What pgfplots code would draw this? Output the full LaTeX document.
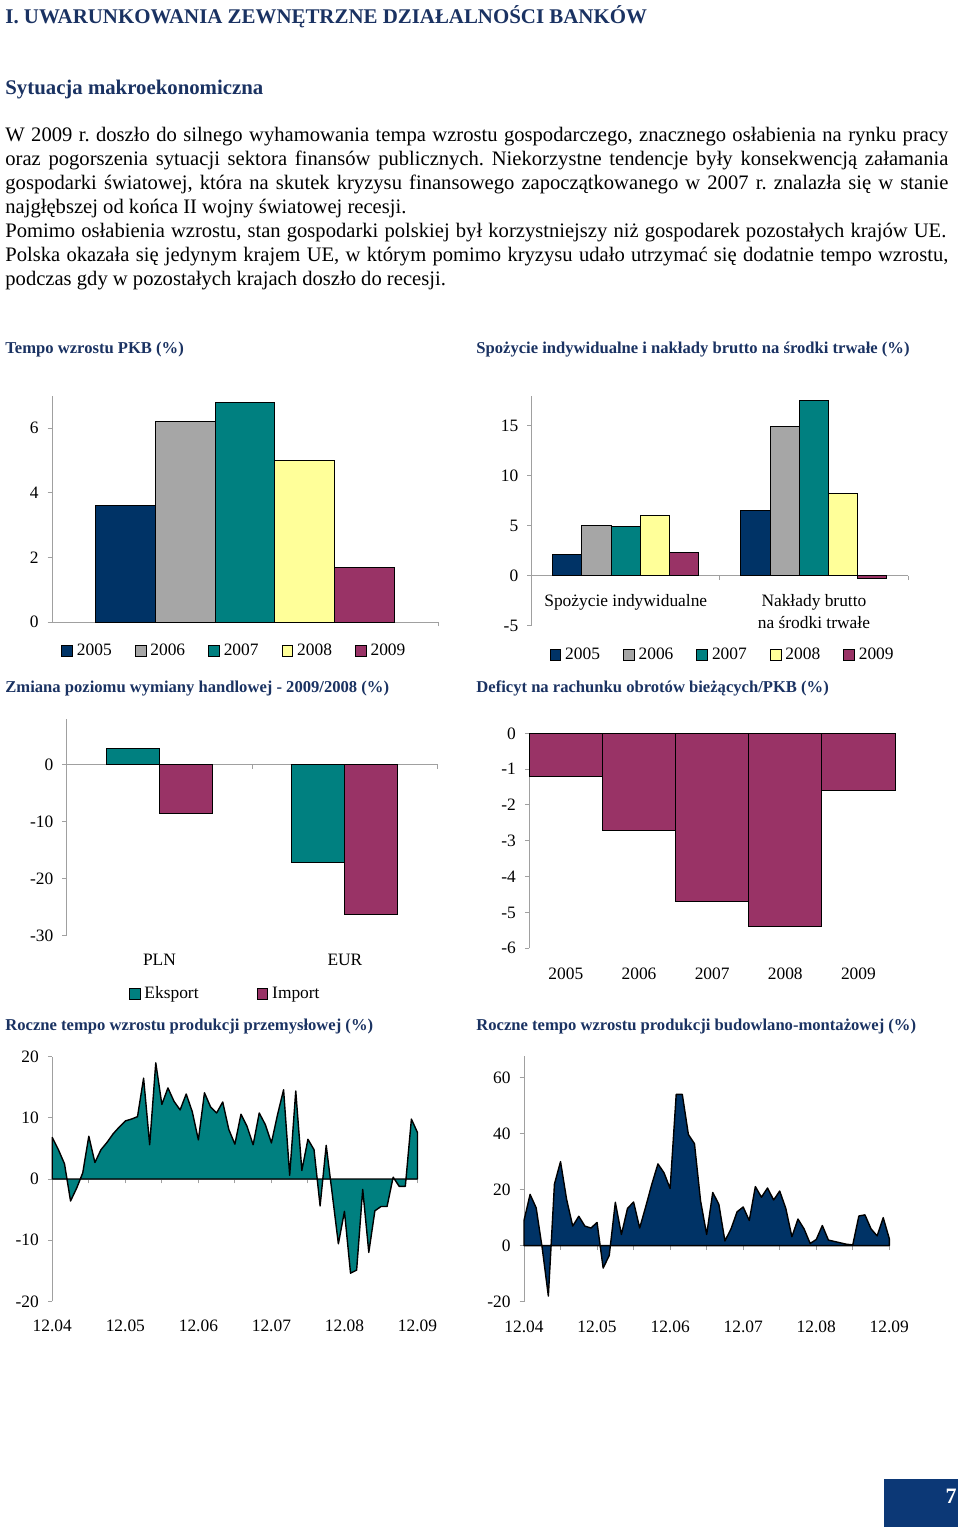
\documentclass[border=0pt]{standalone}
\usepackage{fontspec}
\setmainfont{Liberation Serif}
\usepackage{pgfplots}
\pgfplotsset{compat=1.18}
\frenchspacing

\definecolor{cnavy}{HTML}{003366}
\definecolor{cgray}{HTML}{A6A6A6}
\definecolor{cteal}{HTML}{008080}
\definecolor{cyell}{HTML}{FFFF99}
\definecolor{cplum}{HTML}{993366}
\definecolor{headblue}{RGB}{26,50,98}
\definecolor{axgray}{RGB}{160,160,160}
\definecolor{pagebox}{RGB}{12,56,118}

\newcommand{\tf}{\fontsize{8.7}{11}\selectfont}
\newcommand{\ttl}{\fontsize{8.3}{10}\selectfont\bfseries}
\newcommand{\bodyf}{\fontsize{10.3}{12}\selectfont}

\pgfplotsset{
  pagechart/.style={
    scale only axis,
    anchor=south west,
    axis x line=middle,
    axis y line=left,
    axis line style={-, axgray, line width=0.5pt},
    tick style={axgray, line width=0.5pt},
    tick align=outside,
    major tick length=2.2pt,
    minor tick num=0,
    hide obscured x ticks=false,
    hide obscured y ticks=false,
    tick label style={font=\tf, text=black},
    yticklabel style={xshift=-1pt},
    /pgf/number format/assume math mode=true,
    clip=false,
    legend style={draw=none, fill=none, font=\tf, legend columns=-1,
      inner sep=0pt,
      /tikz/every even column/.append style={column sep=9.5pt}},
  },
  sq legend/.style={legend image code/.code={\draw[##1,draw=black,line width=0.4pt] (0pt,-2.7pt) rectangle (5.4pt,2.7pt);}},
}

\begin{document}
\begin{tikzpicture}
\useasboundingbox (0,0) rectangle (480pt,-767.5pt);

% ---- headings and body text ----
\node[anchor=base west, inner sep=0pt, font=\fontsize{10.45}{12}\selectfont\bfseries, text=headblue] at (2.5pt,-11.65pt) {I. UWARUNKOWANIA ZEWNĘTRZNE DZIAŁALNOŚCI BANKÓW};
\node[anchor=base west, inner sep=0pt, font=\fontsize{10.4}{12}\selectfont\bfseries, text=headblue] at (2.5pt,-47.5pt) {Sytuacja makroekonomiczna};

\node[anchor=base west, inner sep=0pt, font=\bodyf] at (2.5pt,-71pt) {\makebox[471.5pt][s]{W 2009 r. doszło do silnego wyhamowania tempa wzrostu gospodarczego, znacznego osłabienia na rynku pracy}};
\node[anchor=base west, inner sep=0pt, font=\bodyf] at (2.5pt,-83pt) {\makebox[471.5pt][s]{oraz pogorszenia sytuacji sektora finansów publicznych. Niekorzystne tendencje były konsekwencją załamania}};
\node[anchor=base west, inner sep=0pt, font=\bodyf] at (2.5pt,-95pt) {\makebox[471.5pt][s]{gospodarki światowej, która na skutek kryzysu finansowego zapoczątkowanego w 2007 r. znalazła się w stanie}};
\node[anchor=base west, inner sep=0pt, font=\bodyf] at (2.5pt,-107pt) {najgłębszej od końca II wojny światowej recesji.};
\node[anchor=base west, inner sep=0pt, font=\bodyf] at (2.5pt,-119pt) {\makebox[470.5pt][s]{Pomimo osłabienia wzrostu, stan gospodarki polskiej był korzystniejszy niż gospodarek pozostałych krajów UE.}};
\node[anchor=base west, inner sep=0pt, font=\bodyf] at (2.5pt,-131pt) {\makebox[471.5pt][s]{Polska okazała się jedynym krajem UE, w którym pomimo kryzysu udało utrzymać się dodatnie tempo wzrostu,}};
\node[anchor=base west, inner sep=0pt, font=\bodyf] at (2.5pt,-143pt) {podczas gdy w pozostałych krajach doszło do recesji.};

% ---- chart titles ----
\node[anchor=base west, inner sep=0pt, font=\ttl, text=headblue] at (2.5pt,-177pt) {Tempo wzrostu PKB (\%)};
\node[anchor=base west, inner sep=0pt, font=\ttl, text=headblue] at (238pt,-177pt) {Spożycie indywidualne i nakłady brutto na środki trwałe (\%)};
\node[anchor=base west, inner sep=0pt, font=\ttl, text=headblue] at (2.5pt,-346pt) {Zmiana poziomu wymiany handlowej - 2009/2008 (\%)};
\node[anchor=base west, inner sep=0pt, font=\ttl, text=headblue] at (238pt,-346pt) {Deficyt na rachunku obrotów bieżących/PKB (\%)};
\node[anchor=base west, inner sep=0pt, font=\ttl, text=headblue] at (2.5pt,-515pt) {Roczne tempo wzrostu produkcji przemysłowej (\%)};
\node[anchor=base west, inner sep=0pt, font=\ttl, text=headblue] at (238pt,-515pt) {Roczne tempo wzrostu produkcji budowlano-montażowej (\%)};

% ---- chart 1: GDP growth ----
\begin{axis}[pagechart, at={(26pt,-311pt)}, width=193pt, height=113pt,
  xmin=-0.238, xmax=6.238, ymin=0, ymax=7,
  ytick={0,2,4,6}, xtick={6.238}, xticklabels={},
  legend style={at={(0.475,-0.128)}, anchor=center}]
\addplot[ybar, bar width=1, fill=cnavy, draw=black, line width=0.5pt, sq legend] coordinates {(1,3.6)};
\addplot[ybar, bar width=1, fill=cgray, draw=black, line width=0.5pt, sq legend] coordinates {(2,6.2)};
\addplot[ybar, bar width=1, fill=cteal, draw=black, line width=0.5pt, sq legend] coordinates {(3,6.8)};
\addplot[ybar, bar width=1, fill=cyell, draw=black, line width=0.5pt, sq legend] coordinates {(4,5.0)};
\addplot[ybar, bar width=1, fill=cplum, draw=black, line width=0.5pt, sq legend] coordinates {(5,1.7)};
\legend{2005,2006,2007,2008,2009}
\end{axis}

% ---- chart 2: consumption and investment ----
\begin{axis}[pagechart, at={(265.85pt,-312.85pt)}, width=188.15pt, height=115pt,
  xmin=0.5, xmax=2.5, ymin=-5, ymax=18,
  ybar=0pt, bar width=14.6pt,
  ytick={-5,0,5,10,15},
  xtick={0.5,1.5,2.5}, xticklabels={,,},
  extra x ticks={1,2},
  extra x tick labels={Spożycie indywidualne,{Nakłady brutto\\na środki trwałe}},
  extra x tick style={major tick length=0pt, xticklabel style={align=center, anchor=north, yshift=-6pt}},
  legend style={at={(0.51,-0.128)}, anchor=center}]
\addplot[fill=cnavy, draw=black, line width=0.5pt, sq legend] coordinates {(1,2.1) (2,6.5)};
\addplot[fill=cgray, draw=black, line width=0.5pt, sq legend] coordinates {(1,5.0) (2,14.9)};
\addplot[fill=cteal, draw=black, line width=0.5pt, sq legend] coordinates {(1,4.9) (2,17.5)};
\addplot[fill=cyell, draw=black, line width=0.5pt, sq legend] coordinates {(1,6.0) (2,8.2)};
\addplot[fill=cplum, draw=black, line width=0.5pt, sq legend] coordinates {(1,2.3) (2,-0.3)};
\legend{2005,2006,2007,2008,2009}
\end{axis}

% ---- chart 3: trade ----
\begin{axis}[pagechart, at={(33.35pt,-467.85pt)}, width=185.5pt, height=108.2pt,
  xmin=0.5, xmax=2.5, ymin=-30, ymax=7.9,
  ybar=0pt, bar width=26.5pt,
  ytick={-30,-20,-10,0},
  xtick={0.5,1.5,2.5}, xticklabels={,,},
  extra x ticks={1,2}, extra x tick labels={PLN,EUR},
  extra x tick style={major tick length=0pt, xticklabel style={anchor=base, yshift=-100.5pt}},
  legend style={at={(0.43,-0.27)}, anchor=center, /tikz/every even column/.append style={column sep=27pt}}]
\addplot[fill=cteal, draw=black, line width=0.5pt, sq legend] coordinates {(1,2.7) (2,-17.2)};
\addplot[fill=cplum, draw=black, line width=0.5pt, sq legend] coordinates {(1,-8.6) (2,-26.3)};
\legend{Eksport,Import}
\end{axis}

% ---- chart 4: current account deficit ----
\begin{axis}[pagechart, at={(264.65pt,-474.15pt)}, width=182.85pt, height=107.5pt,
  xmin=0.5, xmax=5.5, ymin=-6, ymax=0,
  ytick={-6,-5,-4,-3,-2,-1,0},
  xtick=\empty,
  extra x ticks={1,2,3,4,5}, extra x tick labels={2005,2006,2007,2008,2009},
  extra x tick style={major tick length=0pt, xticklabel style={anchor=base, yshift=-122.9pt}}]
\addplot[ybar, bar width=1, fill=cplum, draw=black, line width=0.5pt] coordinates {(1,-1.2) (2,-2.7) (3,-4.7) (4,-5.4) (5,-1.6)};
\end{axis}

% ---- chart 5: industrial production ----
\begin{axis}[pagechart, at={(26.15pt,-650.65pt)}, width=182.6pt, height=122.3pt,
  xmin=0, xmax=60, ymin=-20, ymax=20,
  ytick={-20,-10,0,10,20},
  xtick={0,6,...,60},
  xticklabels={12.04,,12.05,,12.06,,12.07,,12.08,,12.09},
  xticklabel style={anchor=base, yshift=-74.2pt}]
\addplot[fill=cteal, draw=black, line width=0.7pt, line join=round] table {
x y
0 0
0 6.8
1 4.8
2 2.5
3 -3.6
4 -1.5
5 1.0
6 7.0
7 2.7
8 4.8
9 6.0
10 7.4
11 8.5
12 9.5
13 9.8
14 10.2
15 16.5
16 5.6
17 19.0
18 12.2
19 14.9
20 12.7
21 11.3
22 13.9
23 11.0
24 6.4
25 14.1
26 11.8
27 10.8
28 12.6
29 8.1
30 5.7
31 10.6
32 8.6
33 5.6
34 10.8
35 8.9
36 5.9
37 10.5
38 14.6
39 0.6
40 14.4
41 1.4
42 6.5
43 4.8
44 -4.4
45 5.5
46 -2.5
47 -10.6
48 -5.3
49 -15.4
50 -14.9
51 -1.7
52 -12.0
53 -5.2
54 -4.5
55 -4.5
56 0.3
57 -1.2
58 -1.2
59 9.8
60 7.6
60 0
} -- cycle;
\end{axis}

% ---- chart 6: construction ----
\begin{axis}[pagechart, at={(262pt,-650.85pt)}, width=182.65pt, height=122.85pt,
  xmin=0, xmax=60, ymin=-20, ymax=67.7,
  ytick={-20,0,20,40,60},
  xtick={0,6,...,60},
  xticklabels={12.04,,12.05,,12.06,,12.07,,12.08,,12.09},
  xticklabel style={anchor=base, yshift=-41pt}]
\addplot[fill=cnavy, draw=black, line width=0.7pt, line join=round] table {
x y
0 0
0 9.0
1 18.3
2 13.5
3 -1.0
4 -18.0
5 22.0
6 30.0
7 16.5
8 7.0
9 10.5
10 7.0
11 6.3
12 8.3
13 -8.0
14 -3.5
15 15.5
16 4.0
17 13.3
18 15.6
19 6.3
20 14.0
21 22.0
22 29.2
23 26.0
24 20.4
25 54.0
26 54.0
27 39.7
28 36.4
29 16.0
30 4.0
31 19.0
32 14.8
33 1.7
34 6.0
35 12.1
36 13.8
37 9.0
38 21.1
39 17.3
40 20.6
41 16.3
42 19.5
43 13.3
44 3.2
45 9.5
46 6.0
47 0.8
48 2.2
49 7.2
50 2.0
51 1.5
52 1.0
53 0.5
54 0.3
55 10.6
56 11.0
57 6.0
58 3.5
59 10.0
60 2.5
60 0
} -- cycle;
\end{axis}

% ---- page number ----
\fill[pagebox] (442pt,-739.5pt) rectangle (479pt,-763.5pt);
\node[anchor=base east, inner sep=0pt, text=white, font=\fontsize{11}{12}\selectfont\bfseries] at (478.5pt,-751.5pt) {7};
\end{tikzpicture}
\end{document}
